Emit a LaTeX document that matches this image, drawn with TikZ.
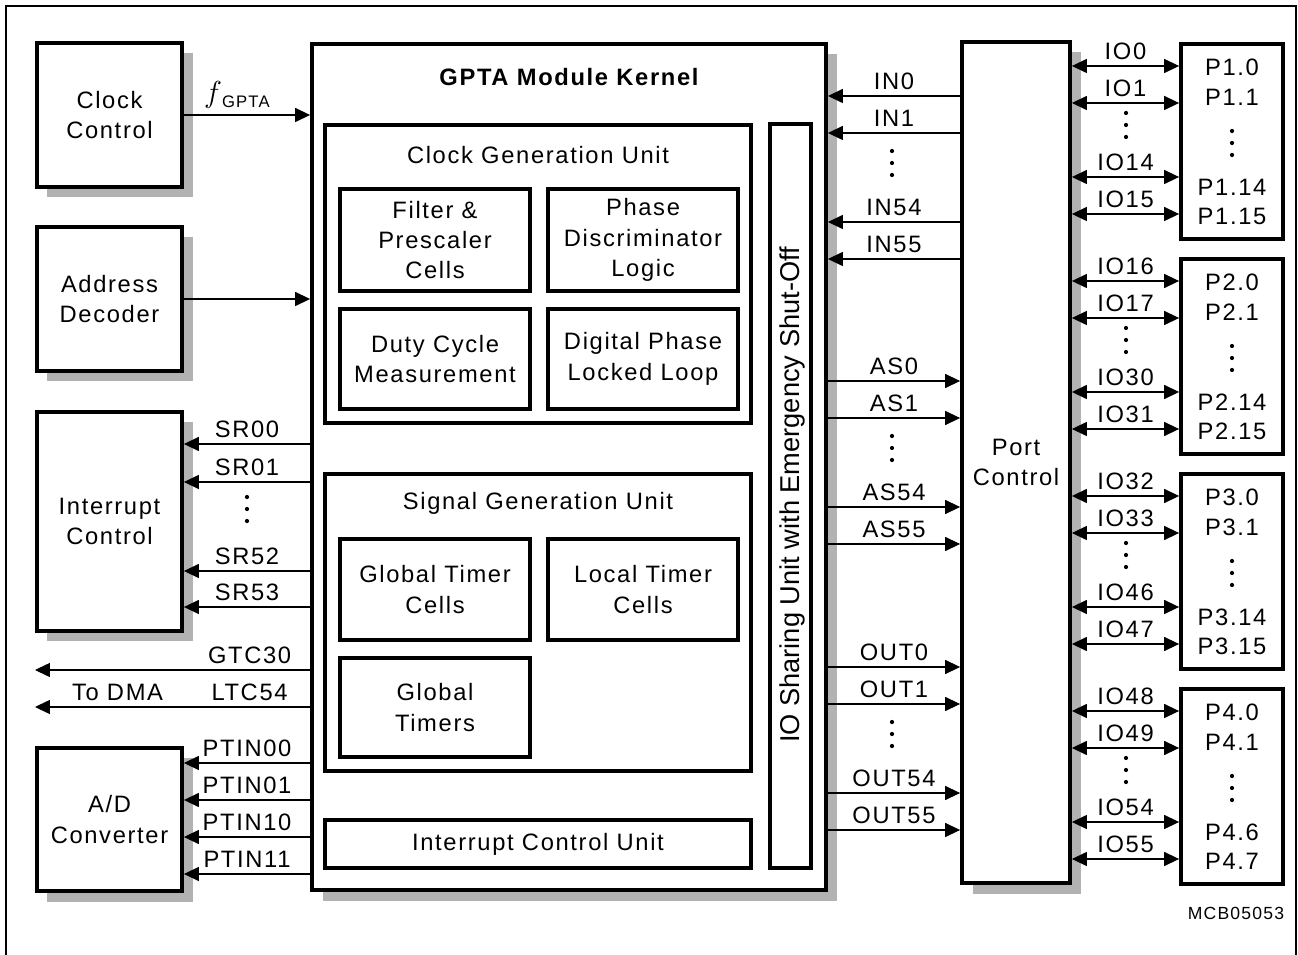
\documentclass[tikz,border=0pt]{standalone}
\usepackage{amsmath}
\usepackage{fontspec}
\setmainfont{Liberation Sans}[LetterSpace=7]
\newfontfamily\plainsf{Liberation Sans}
\usepackage{tikz}
\usetikzlibrary{positioning,fit,arrows.meta,shadows}

\tikzset{
  box/.style={draw, line width=2.2pt, fill=white, inner sep=0pt},
  sbox/.style={box, drop shadow={shadow xshift=0.21cm, shadow yshift=-0.21cm, fill=black!30, opacity=1}},
  txt/.style={label={[align=center]center:#1}},
  lbl/.style={above=3.5pt, inner sep=0pt},
  sig/.style={line width=0.6pt, -{Triangle[length=8.5pt,width=8pt]}},
  bus/.style={line width=0.6pt, {Triangle[length=8.5pt,width=8pt]}-{Triangle[length=8.5pt,width=8pt]}},
}

\begin{document}
\begin{tikzpicture}[x=0.02cm, y=-0.02cm,
  every node/.style={font=\fontsize{13.5}{17.3}\selectfont, align=center}]
\def\vdts#1#2{\fill (#1,#2-12) circle[radius=1.2pt] (#1,#2) circle[radius=1.2pt] (#1,#2+12) circle[radius=1.2pt];}
  \useasboundingbox (0,0) rectangle (1298,955);
  \draw[line width=1.1pt] (6,955) -- (6,6) -- (1296,6) -- (1296,955);

  % blocks on the left
  \node[sbox, fit={(37,43) (182,187)}, txt={Clock\\Control}] (clk) {};
  \node[sbox, fit={(37,227) (182,371)}, txt={Address\\Decoder}] (adr) {};
  \node[sbox, fit={(37,412) (182,631)}, txt={Interrupt\\Control}] (intc) {};
  \node[sbox, fit={(37,748) (182,891)}, txt={A/D\\Converter}] (adc) {};

  % kernel
  \node[sbox, fit={(312,44) (826,890)}] (kern) {};
  \node[font=\fontsize{13.5}{17.3}\selectfont\bfseries] (ktitle) at (569,77) {GPTA Module Kernel};
  \node[box, fit={(325,125) (751,423)}] (cgu) {};
  \node (cgutitle) at (538,155) {Clock Generation Unit};
  \node[box, fit={(340,189) (530,291)}, txt={Filter \&\\Prescaler\\Cells}] (flt) {};
  \node[box, fit={(548,189) (738,291)}, txt={Phase\\Discriminator\\Logic}] (pdl) {};
  \node[box, fit={(340,309) (530,409)}, txt={Duty Cycle\\Measurement}] (dcm) {};
  \node[box, fit={(548,309) (738,409)}, txt={Digital Phase\\Locked Loop}] (dpl) {};
  \node[box, fit={(325,474) (751,771)}] (sgu) {};
  \node (sgutitle) at (538,503) {Signal Generation Unit};
  \node[box, fit={(340,539) (530,640)}, txt={Global Timer\\Cells}] (gtc) {};
  \node[box, fit={(548,539) (738,640)}, txt={Local Timer\\Cells}] (ltc) {};
  \node[box, fit={(340,658) (530,757)}, txt={Global\\Timers}] (gtm) {};
  \node[box, fit={(325,820) (751,868)}, txt={Interrupt Control Unit}] (icu) {};
  \node[box, fit={(770,124) (811,868)}] (ios) {};
  \node[rotate=90, font=\plainsf\fontsize{15.5}{18}\selectfont] (iostext) at (792,495) {IO Sharing Unit with Emergency Shut-Off};

  % port control
  \node[sbox, fit={(962,42) (1070,883)}, txt={Port\\Control}] (prt) {};

  % left connections
  \draw[sig] (clk.east |- 0,115) -- (kern.west |- 0,115)
    node[lbl,pos=0.42] {{\fontsize{16}{18}\selectfont$f$}\raisebox{-3pt}{\fontsize{9.5}{11}\selectfont GPTA}};
  \draw[sig] (adr.east |- 0,299) -- (kern.west |- 0,299);
  \foreach \y/\n in {444/00,482/01,571/52,607/53}
    \draw[sig] (kern.west |- 0,\y) -- (intc.east |- 0,\y) node[lbl,midway] {SR\n};
  \vdts{247}{509}
  \coordinate (dma1) at (35,670);
  \coordinate (dma2) at (35,707);
  \draw[sig] (kern.west |- dma1) -- (dma1) node[lbl,pos=0.22] {GTC30};
  \draw[sig] (kern.west |- dma2) -- (dma2) node[lbl,pos=0.22] {LTC54} node[lbl,pos=0.7] {To DMA};
  \foreach \y/\n in {763/00,800/01,837/10,874/11}
    \draw[sig] (kern.west |- 0,\y) -- (adc.east |- 0,\y) node[lbl,midway] {PTIN\n};

  % kernel <-> port control
  \foreach \o/\n in {0/0,37/1,126/54,163/55}
    \draw[sig] (prt.west |- 0,96+\o) -- (kern.east |- 0,96+\o) node[lbl,midway] {IN\n};
  \vdts{892}{163}
  \foreach \nm/\a in {AS/381,OUT/667} {
    \foreach \o/\n in {0/0,37/1,126/54,163/55}
      \draw[sig] (kern.east |- 0,\a+\o) -- (prt.west |- 0,\a+\o) node[lbl,midway] {\nm\n};
    \vdts{892}{\a+67}
  }

  % port groups
  \foreach \k/\a/\pc/\pd/\ia/\ib/\ic/\id in {1/66/14/15/0/1/14/15, 2/281/14/15/16/17/30/31,
      3/496/14/15/32/33/46/47, 4/711/6/7/48/49/54/55} {
    \node[box, fit={(1181,\a-22) (1283,\a+173)}] (p\k) {};
    \node (pa\k) at (1232,\a+1) {P\k.0};
    \node (pb\k) at (1232,\a+31) {P\k.1};
    \node (pc\k) at (1232,\a+121) {P\k.\pc};
    \node (pd\k) at (1232,\a+150) {P\k.\pd};
    \vdts{1232}{\a+77}
    \foreach \o/\n in {0/\ia,37/\ib,111/\ic,148/\id}
      \draw[bus] (prt.east |- 0,\a+\o) -- (p\k.west |- 0,\a+\o) node[lbl,midway] {IO\n};
    \vdts{1126}{\a+59}
  }

  \node[font=\fontsize{10}{12}\selectfont] (mcb) at (1236,913) {MCB05053};
\end{tikzpicture}
\end{document}
